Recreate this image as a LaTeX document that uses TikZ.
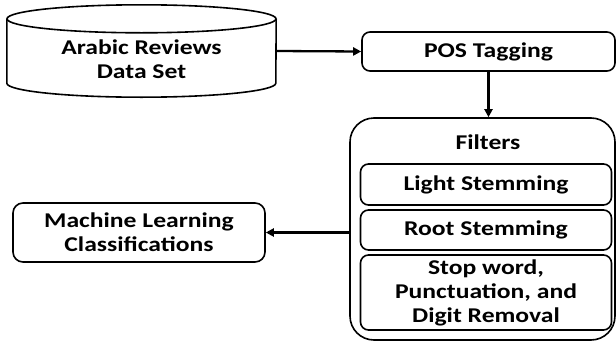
\documentclass[tikz,border=0pt]{standalone}
\usepackage{fontspec}
\setmainfont{Carlito}[FakeStretch=1.22]
\usepackage{tikz}
\usetikzlibrary{positioning,arrows.meta}

\begin{document}
\begin{tikzpicture}[x=1pt,y=-1pt,
  every node/.style={font=\fontsize{21}{24}\selectfont\bfseries,align=center},
  stepbox/.style={draw,rounded corners=8pt,line width=1.6pt,inner sep=0pt},
  flow/.style={line width=2.3pt,-{Triangle[length=8pt,width=8pt]}}]
  \useasboundingbox (0,0) rectangle (616,343);
  \node[minimum width=269pt,minimum height=64pt,inner sep=0pt] (data) at (141.5,51) {};
  \node[yshift=-8pt] (datatext) at (data.center) {Arabic Reviews\\Data Set};
  \draw[line width=1.6pt] (data.north west) -- (data.south west)
    arc[start angle=180,end angle=360,x radius=134.5pt,y radius=14pt] -- (data.north east);
  \draw[line width=1.6pt] (data.north) ellipse[x radius=134.5pt,y radius=14pt];
  \node[stepbox,minimum width=253pt,minimum height=39pt] (pos) at (488.5,51.5) {POS Tagging};
  \node[draw,rounded corners=24pt,line width=1.6pt,minimum width=265pt,minimum height=222pt,inner sep=0pt] (filters) at (482.5,229) {};
  \node (ftitle) at (488,142) {Filters};
  \node[stepbox,minimum width=251pt,minimum height=41pt] (light) at (486,184.5) {Light Stemming};
  \node[stepbox,minimum width=251pt,minimum height=40pt] (root) at (486,230) {Root Stemming};
  \node[stepbox,minimum width=251pt,minimum height=75pt] (stop) at (486,292.5) {Stop word,\\Punctuation, and\\Digit Removal};
  \node[stepbox,rounded corners=10pt,minimum width=252pt,minimum height=59pt] (ml) at (139,232.5) {Machine Learning\\Classifications};
  \draw[flow] (data.east) -- (pos.west);
  \draw[flow] (pos.south) -- (pos.south |- filters.north);
  \draw[flow] (filters.west |- ml.east) -- (ml.east);
\end{tikzpicture}
\end{document}
